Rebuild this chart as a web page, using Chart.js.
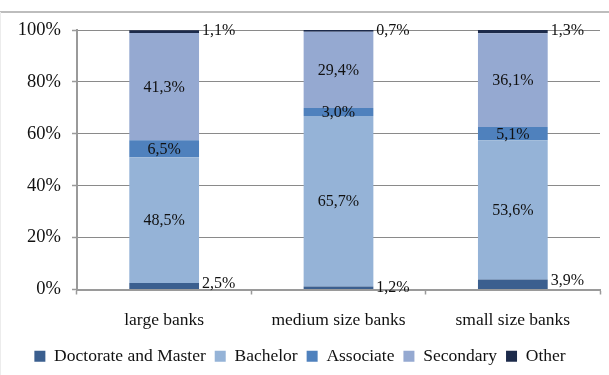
<!DOCTYPE html>
<html>
<head>
<meta charset="utf-8">
<title>Education level by bank size</title>
<script src="https://cdn.jsdelivr.net/npm/chart.js@4.4.1/dist/chart.umd.min.js"></script>
<style>
  html, body { margin: 0; padding: 0; background: #fff; }
  #wrap { position: relative; width: 609px; height: 375px; }
  #frame-top { position: absolute; left: 0; top: 11px; width: 609px; height: 2px; background: #bdbdbd; }
  #frame-left { position: absolute; left: 0; top: 12px; width: 1px; height: 363px; background: #ececec; }
  canvas { position: absolute; left: 0; top: 0; }
</style>
</head>
<body>
<div id="wrap">
  <canvas id="chart" width="609" height="375"></canvas>
  <div id="frame-top"></div>
  <div id="frame-left"></div>
</div>
<script>
// bank size groups
const categories = ['large banks', 'medium size banks', 'small size banks'];

// share of employees by education level, %
const doctorateMaster = [2.5, 1.2, 3.9];
const bachelor = [48.5, 65.7, 53.6];
const associate = [6.5, 3.0, 5.1];
const secondary = [41.3, 29.4, 36.1];
const other = [1.1, 0.7, 1.3];

const yTicks = [0, 20, 40, 60, 80, 100];

const SERIF = "'Liberation Serif', 'Times New Roman', serif";

function pct(v) {
    return v.toFixed(1).replace('.', ',') + '%';
}

// writes the share on each segment; thin segments get it beside the bar
const valueLabels = {
    id: 'valueLabels',
    afterDatasetsDraw(chart) {
        const ctx = chart.ctx;
        ctx.save();
        ctx.font = '16px ' + SERIF;
        ctx.fillStyle = '#111';
        ctx.textBaseline = 'middle';
        chart.data.datasets.forEach((ds, i) => {
            const meta = chart.getDatasetMeta(i);
            meta.data.forEach((bar, j) => {
                const text = pct(ds.data[j]);
                if (ds.outside) {
                    ctx.textAlign = 'left';
                    ctx.fillText(text, bar.x + bar.width / 2 + 3, bar.y + 1);
                } else {
                    ctx.textAlign = 'center';
                    ctx.fillText(text, bar.x, (bar.y + bar.base) / 2 + 1);
                }
            });
        });
        ctx.restore();
    }
};

const ctx = document.getElementById('chart').getContext('2d');

new Chart(ctx, {
    type: 'bar',
    data: {
        labels: categories,
        datasets: [
            { label: 'Doctorate and Master', data: doctorateMaster, backgroundColor: '#3b5f8f', outside: true },
            { label: 'Bachelor', data: bachelor, backgroundColor: '#95b3d7' },
            { label: 'Associate', data: associate, backgroundColor: '#4f81bd' },
            { label: 'Secondary', data: secondary, backgroundColor: '#95a9d1' },
            { label: 'Other', data: other, backgroundColor: '#1c2a4a', outside: true }
        ]
    },
    options: {
        responsive: false,
        animation: false,
        layout: { padding: { left: 0, right: 9, top: 30, bottom: 0 } },
        datasets: {
            bar: { categoryPercentage: 0.4, barPercentage: 1, borderWidth: 0 }
        },
        plugins: {
            tooltip: { enabled: false },
            legend: {
                position: 'bottom',
                labels: {
                    font: { family: SERIF, size: 17.5 },
                    color: '#111',
                    boxWidth: 11,
                    boxHeight: 11,
                    padding: 9
                }
            }
        },
        scales: {
            x: {
                stacked: true,
                afterFit: s => { s.height = 49; },
                grid: {
                    drawOnChartArea: false,
                    drawTicks: true,
                    tickLength: 5,
                    tickColor: '#9a9a9a',
                    tickWidth: 1.5
                },
                border: { color: '#9a9a9a', width: 2 },
                ticks: {
                    font: { family: SERIF, size: 17.5 },
                    color: '#111',
                    padding: 15,
                    maxRotation: 0
                }
            },
            y: {
                stacked: true,
                min: 0,
                max: 100,
                afterFit: s => { s.width = 77; },
                afterBuildTicks: s => { s.ticks = yTicks.map(v => ({ value: v })); },
                grid: {
                    color: '#8a8a8a',
                    lineWidth: 1,
                    borderDash: [6, 3, 2, 3],
                    tickLength: 5,
                    tickColor: '#9a9a9a',
                    tickWidth: 1.5,
                    tickBorderDash: []
                },
                border: { color: '#9a9a9a', width: 2 },
                ticks: {
                    font: { family: SERIF, size: 18.5 },
                    color: '#111',
                    padding: 11,
                    callback: v => v + '%'
                }
            }
        }
    },
    plugins: [valueLabels]
});
</script>
</body>
</html>
